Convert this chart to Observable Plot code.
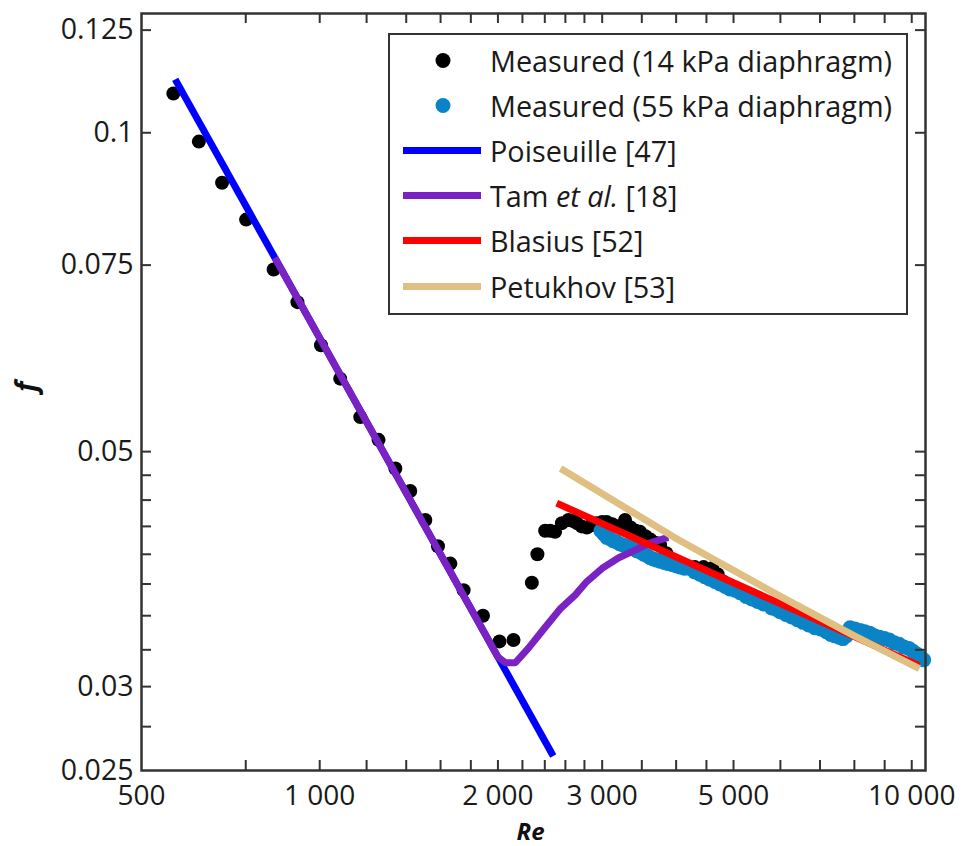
<!DOCTYPE html>
<html><head><meta charset="utf-8">
<script src="https://cdn.jsdelivr.net/npm/d3@7"></script>
<script src="https://cdn.jsdelivr.net/npm/@observablehq/plot@0.6"></script>
<style>
html,body{margin:0;padding:0;background:#fff;}
#wrap{position:relative;width:962px;height:846px;font-family:"Open Sans",sans-serif;}
#legend{position:absolute;left:388px;top:33px;width:516px;height:278px;border:2px solid #333;background:#fff;}
.row{position:absolute;left:0;height:45px;display:flex;align-items:center;}
.row svg{flex:none;display:block;}
.row span{font-size:28.8px;color:#1a1a1a;white-space:nowrap;font-family:"Open Sans",sans-serif;}
</style></head><body><div id="wrap"></div>
<script>
// Measured, 14 kPa diaphragm
const re14 = [566,625,684,751,836,917,1005,1083,1171,1257,1342,1422,1508,1584,1662,1750,1887,2012,2125,2282,2332,2403,2450,2498,2565,2631,2680,2718,2770,2826,2880,2938,3000,3054,3120,3200,3279,3350,3420,3477,3550,3620,3700,3758,3850,3950,4050,4169,4300,4450,4600,4700,4800,4900,5000];
const f14 = [0.1089,0.0981,0.0897,0.0828,0.0743,0.0692,0.0630,0.0586,0.0539,0.0513,0.0482,0.0459,0.0431,0.0407,0.0392,0.0370,0.0350,0.0331,0.0332,0.0376,0.0400,0.0421,0.0421,0.0420,0.0428,0.0431,0.0430,0.0428,0.0425,0.0424,0.0426,0.0428,0.0429,0.0429,0.0427,0.0425,0.0431,0.0424,0.0421,0.0420,0.0416,0.0413,0.0410,0.0408,0.0401,0.0394,0.0392,0.0389,0.0389,0.0389,0.0388,0.0383,0.0377,0.0374,0.0372];
// Measured, 55 kPa diaphragm
const re55 = [2985,3020,3054,3090,3130,3170,3215,3260,3300,3345,3390,3435,3480,3525,3571,3615,3660,3710,3758,3820,3880,3945,4010,4070,4130,4209,4300,4385,4470,4560,4650,4745,4840,4930,5030,5127,5250,5370,5490,5618,5800,5900,5992,6130,6270,6410,6552,6700,6860,7010,7173,7300,7420,7540,7652,7750,7869,8020,8180,8330,8490,8650,8820,8990,9163,9340,9520,9700,9889,10050,10200,10340,10474];
const f55 = [0.0421,0.0418,0.0415,0.0414,0.0412,0.0411,0.0409,0.0408,0.0407,0.0406,0.0405,0.0403,0.0402,0.0400,0.0399,0.0397,0.0396,0.0395,0.0394,0.0393,0.0392,0.0391,0.0390,0.0389,0.0388,0.0388,0.0385,0.0383,0.0381,0.0379,0.0377,0.0375,0.0373,0.0371,0.0370,0.0368,0.0365,0.0363,0.0361,0.0359,0.0356,0.0355,0.0353,0.0351,0.0349,0.0347,0.0345,0.0343,0.0341,0.0340,0.0338,0.0336,0.0335,0.0334,0.0333,0.0335,0.0341,0.0340,0.0339,0.0338,0.0337,0.0335,0.0334,0.0333,0.0332,0.0330,0.0329,0.0327,0.0326,0.0324,0.0322,0.0320,0.0318];
// Poiseuille [47]
const poiRe = [570, 2480];
const poiF = [0.1123, 0.0258];
// Tam et al. [18]
const tamRe = [840, 2000, 2060, 2140, 2250, 2400, 2545, 2700, 2826, 3000, 3200, 3390, 3615, 3880];
const tamF = [0.0762, 0.0320, 0.0316, 0.0316, 0.0326, 0.0341, 0.0355, 0.0366, 0.0377, 0.0388, 0.0397, 0.0403, 0.0410, 0.0415];
// Blasius [52]
const blaRe = [2514, 5000, 10300];
const blaF = [0.0447, 0.0376, 0.0314];
// Petukhov [53]
const petRe = [2552, 4000, 6000, 8000, 10300];
const petF = [0.0482, 0.0414, 0.0365, 0.0335, 0.0312];

const seriesNames = ["Measured (14 kPa diaphragm)", "Measured (55 kPa diaphragm)", "Poiseuille [47]", "Tam et al. [18]", "Blasius [52]", "Petukhov [53]"];
const seriesKinds = ["dot", "dot", "line", "line", "line", "line"];
const seriesColors = ["#000000", "#0a84c6", "#0000ff", "#7a22c2", "#ff0000", "#dfbf82"];

const xTicks = [750,1000,1200,1400,1600,1800,2000,2200,2400,2600,2800,3000,3500,4000,4500,5000,6000,7000,8000,9000,10000];
const xLabels = [500,1000,2000,3000,5000,10000];
const yTicks = [0.0275,0.03,0.0325,0.035,0.0375,0.04,0.0425,0.045,0.0475,0.05,0.075,0.1,0.125];
const yLabels = [0.025,0.03,0.05,0.075,0.1,0.125];
const xTitle = "Re";
const yTitle = "f";

const zip = (a, b) => a.map((x, i) => ({x, y: b[i]}));
const d14 = zip(re14, f14), d55 = zip(re55, f55);
const dPoi = zip(poiRe, poiF), dTam = zip(tamRe, tamF), dBla = zip(blaRe, blaF), dPet = zip(petRe, petF);

const W = 962, H = 846, mL = 141, mR = 37, mT = 13, mB = 76;
const pw = W - mL - mR, ph = H - mT - mB, tk = 10;
const axc = "#333";
const lineOpts = (c) => ({x: "x", y: "y", stroke: c, strokeWidth: 7, strokeLinecap: "butt", strokeLinejoin: "round"});

const chart = Plot.plot({
  width: W, height: H,
  marginLeft: mL, marginRight: mR, marginTop: mT, marginBottom: mB,
  style: {fontFamily: "'Open Sans', sans-serif", fontSize: "28px", color: "#1a1a1a", background: "#fff"},
  x: {type: "log", domain: [500, 10550], label: null},
  y: {type: "log", domain: [0.025, 0.1296], label: null},
  marks: [
    Plot.dot(d14, {x: "x", y: "y", r: 7, fill: seriesColors[0]}),
    Plot.dot(d55, {x: "x", y: "y", r: 7.5, fill: seriesColors[1]}),
    Plot.line(dPoi, lineOpts(seriesColors[2])),
    Plot.line(dTam, lineOpts(seriesColors[3])),
    Plot.line(dBla, lineOpts(seriesColors[4])),
    Plot.line(dPet, lineOpts(seriesColors[5])),
    Plot.tickX(xTicks, {x: d => d, insetTop: ph - tk, stroke: axc, strokeWidth: 2}),
    Plot.tickX(xTicks, {x: d => d, insetBottom: ph - tk, stroke: axc, strokeWidth: 2}),
    Plot.tickY(yTicks, {y: d => d, insetRight: pw - tk, stroke: axc, strokeWidth: 2}),
    Plot.tickY(yTicks, {y: d => d, insetLeft: pw - tk, stroke: axc, strokeWidth: 2}),
    Plot.frame({stroke: axc, strokeWidth: 2.5}),
    Plot.axisX(xLabels, {anchor: "bottom", tickSize: 0, tickPadding: 15, label: null, fill: "#1a1a1a", fontSize: 28,
      tickFormat: d => d3.format(",")(d).replace(/,/g, " ")}),
    Plot.axisY(yLabels, {anchor: "left", tickSize: 0, tickPadding: 8, label: null, fill: "#1a1a1a", fontSize: 28.5,
      tickFormat: d => String(d)}),
    Plot.text([xTitle], {frameAnchor: "bottom", lineAnchor: "bottom", dy: 69, dx: -3, text: d => d, fontStyle: "italic", fontWeight: "bold", fontSize: 24, fill: "#111"}),
    Plot.text([yTitle], {frameAnchor: "left", dx: -114, rotate: -90, text: d => d, fontStyle: "italic", fontWeight: "bold", fontSize: 28, fill: "#111"})
  ]
});

const wrap = document.getElementById("wrap");
wrap.appendChild(chart);

const legend = document.createElement("div");
legend.id = "legend";
seriesNames.forEach((name, i) => {
  const row = document.createElement("div");
  row.className = "row";
  row.style.top = (2.5 + i * 45.2) + "px";
  const ns = "http://www.w3.org/2000/svg";
  const svg = document.createElementNS(ns, "svg");
  svg.setAttribute("width", 100); svg.setAttribute("height", 45);
  if (seriesKinds[i] === "dot") {
    const c = document.createElementNS(ns, "circle");
    c.setAttribute("cx", 53); c.setAttribute("cy", 22.5); c.setAttribute("r", 7.5);
    c.setAttribute("fill", seriesColors[i]);
    svg.appendChild(c);
  } else {
    const l = document.createElementNS(ns, "line");
    l.setAttribute("x1", 13); l.setAttribute("x2", 91); l.setAttribute("y1", 22.5); l.setAttribute("y2", 22.5);
    l.setAttribute("stroke", seriesColors[i]); l.setAttribute("stroke-width", 7);
    svg.appendChild(l);
  }
  row.appendChild(svg);
  const span = document.createElement("span");
  span.innerHTML = name.replace("et al.", "<i>et al.</i>");
  row.appendChild(span);
  legend.appendChild(row);
});
wrap.appendChild(legend);
</script>
</body></html>
